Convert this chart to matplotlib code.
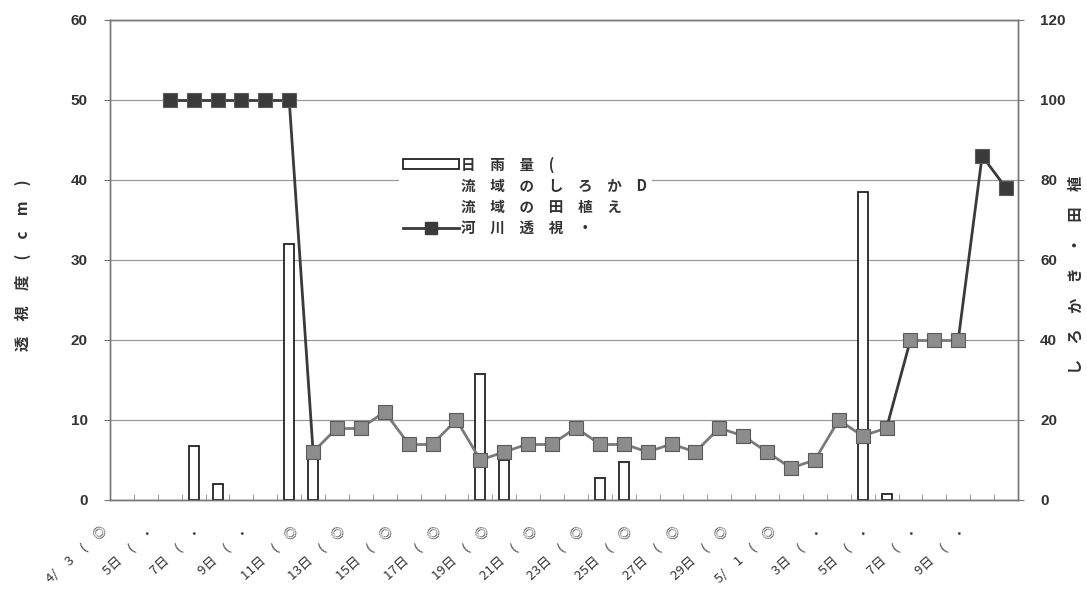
import numpy as np
import matplotlib
matplotlib.use("Agg")
import matplotlib.pyplot as plt
from matplotlib.patches import Patch
from matplotlib.lines import Line2D
from matplotlib.transforms import ScaledTranslation

plt.rcParams['font.family'] = ['Noto Sans CJK JP', 'DejaVu Sans']

# daily series 4/3 .. 5/10 (38 days)
n_days = 38
clarity = [np.nan, np.nan, 50, 50, 50, 50, 50, 50, 6, 9, 9, 11, 7, 7, 10, 5, 6, 7, 7,
           9, 7, 7, 6, 7, 6, 9, 8, 6, 4, 5, 10, 8, 9, 20, 20, 20, 43, 39]
rain_days = [3, 4, 7, 8, 15, 16, 20, 21, 31, 32]
rain_mm = [13.5, 4, 64, 13, 31.5, 10, 5.5, 9.5, 77, 1.5]
tick_labels = ["4/　3　(　◎", "5日　(　・", "7日　(　・", "9日　(　・", "11日　(　◎",
               "13日　(　◎", "15日　(　◎", "17日　(　◎", "19日　(　◎", "21日　(　◎",
               "23日　(　◎", "25日　(　◎", "27日　(　◎", "29日　(　◎", "5/　1　(　◎",
               "3日　(　・", "5日　(　・", "7日　(　・", "9日　(　・"]
legend_labels = ["日　雨　量　(", "流　域　の　し　ろ　か　D", "流　域　の　田　植　え", "河　川　透　視　・"]

dark = '#3a3a3a'
grey = '#8c8c8c'
txt = '#333333'

fig = plt.figure(figsize=(10.87, 5.91), dpi=100)
ax = fig.add_axes([0.1012, 0.154, 0.8353, 0.8122])
ax2 = ax.twinx()
ax.set_zorder(ax2.get_zorder() + 1)
ax.patch.set_visible(False)

x = np.arange(n_days)

# rain bars on right axis
ax2.bar(rain_days, rain_mm, width=0.42, facecolor='white', edgecolor='#222222', linewidth=1.3, zorder=3)
ax2.set_ylim(0, 120)
ax2.set_yticks(range(0, 121, 20))
ax2.yaxis.grid(True, color='#9a9a9a', linewidth=0.9)
ax2.set_axisbelow(True)

# clarity line with segment shading
vals = np.array(clarity, dtype=float)
for i in range(n_days - 1):
    a, b = vals[i], vals[i + 1]
    if np.isnan(a) or np.isnan(b):
        continue
    c = dark if (abs(b - a) > 8 or min(a, b) >= 39) else '#7a7a7a'
    ax.plot([x[i], x[i + 1]], [a, b], color=c, linewidth=2.0, zorder=4)
for i in range(n_days):
    if np.isnan(vals[i]):
        continue
    c = dark if vals[i] >= 39 else grey
    ax.plot(x[i], vals[i], marker='s', markersize=10.5, markerfacecolor=c,
            markeredgecolor='#5a5a5a', markeredgewidth=0.8, zorder=5)

ax.set_xlim(-0.5, n_days - 0.5)
ax.set_ylim(0, 60)
ax.set_yticks(range(0, 61, 10))
ax2.set_xlim(-0.5, n_days - 0.5)

for a_ in (ax, ax2):
    for s in a_.spines.values():
        s.set_color('#777777')
        s.set_linewidth(1.0)

ax.tick_params(axis='y', labelsize=11, colors='#777777', labelcolor=txt, length=4, pad=12)
ax2.tick_params(axis='y', labelsize=11, colors='#777777', labelcolor=txt, length=4, pad=12)
for lab in ax.get_yticklabels() + ax2.get_yticklabels():
    lab.set_fontweight('bold')
    lab.set_family(['Liberation Sans', 'DejaVu Sans'])

ax.set_xticks(x[::2])
ax.set_xticklabels(tick_labels, rotation=42, ha='right', va='center',
                   rotation_mode='anchor', fontsize=9.5, color=txt)
ax.set_xticks(np.arange(n_days + 1) - 0.5, minor=True)
ax.tick_params(axis='x', which='major', length=0, pad=0)
ax.tick_params(axis='x', which='minor', direction='in', length=4, color='#888888')
offset = ScaledTranslation(-0.17, -0.29, fig.dpi_scale_trans)
for lab in ax.get_xticklabels():
    lab.set_transform(lab.get_transform() + offset)

fig.text(0.021, 0.552, "透　視　度　(　c　m　)", rotation=90, ha='center', va='center',
         fontsize=11, color=txt, fontweight='bold')
fig.text(0.989, 0.535, "し　ろ　か　き　・　田　植", rotation=90, ha='center', va='center',
         fontsize=11, color=txt, fontweight='bold')

handles = [Patch(facecolor='white', edgecolor='#222222', linewidth=1.3),
           Line2D([], [], linestyle='none'),
           Line2D([], [], linestyle='none'),
           Line2D([], [], color=dark, linewidth=2, marker='s', markersize=8,
                  markerfacecolor=dark, markeredgecolor=dark)]
leg = ax.legend(handles, legend_labels, loc='upper left', bbox_to_anchor=(0.31, 0.74),
                prop={'size': 10.5, 'weight': 'bold'}, frameon=True, facecolor='white',
                edgecolor='none', framealpha=1, handlelength=3.8, handletextpad=0.2,
                labelspacing=0.35, borderpad=0.3)
for t in leg.get_texts():
    t.set_color(txt)

fig.savefig("out.png", dpi=100, facecolor='white')
